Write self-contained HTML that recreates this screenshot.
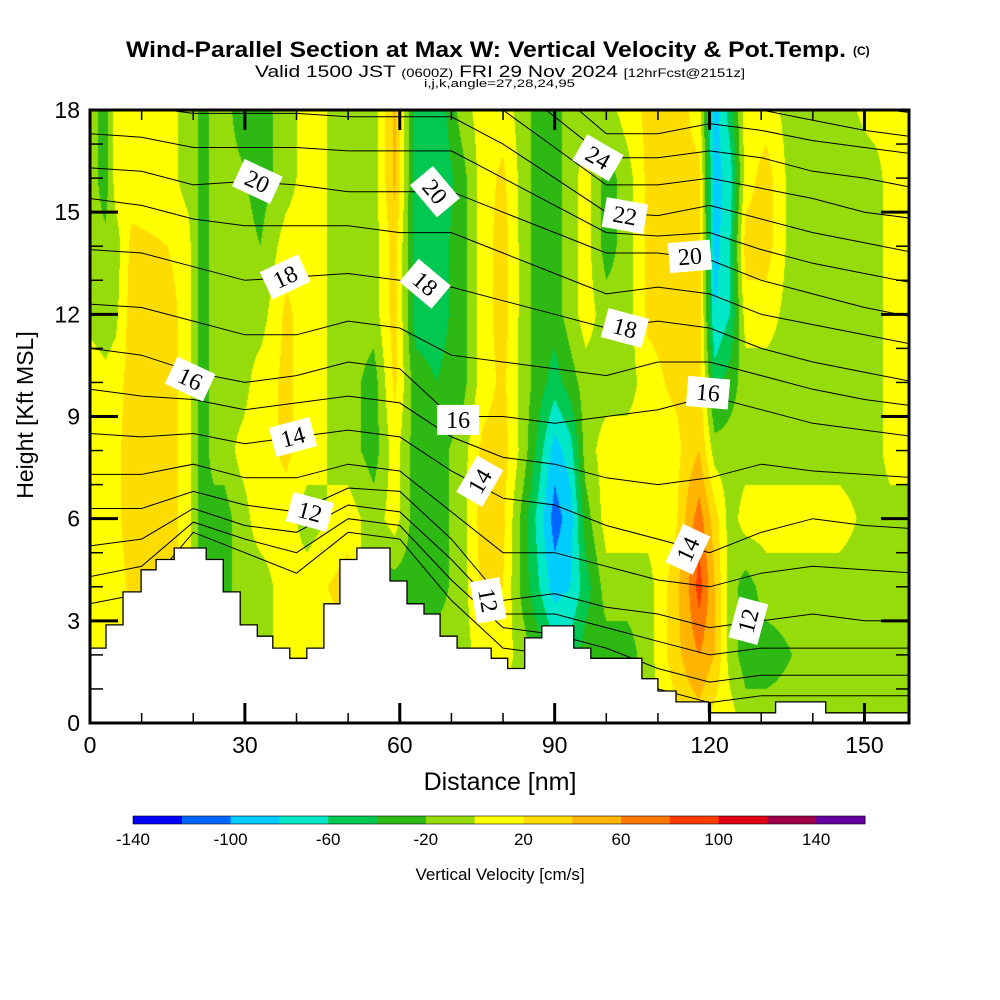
<!DOCTYPE html>
<html><head><meta charset="utf-8">
<style>
html,body{margin:0;padding:0;background:#fff;}
#wrap{position:relative;width:1000px;height:1000px;overflow:hidden;}
canvas{position:absolute;left:0;top:0;}
svg{position:absolute;left:0;top:0;}
text{font-family:"Liberation Sans",sans-serif;}
text.serif{font-family:"Liberation Serif",serif;}
text.narrow{font-family:"Liberation Sans Narrow","Liberation Sans",sans-serif;}
</style></head>
<body>
<div id="wrap">
<canvas id="field" width="1000" height="1000"></canvas>
<svg id="ov" width="1000" height="1000" xmlns="http://www.w3.org/2000/svg">
  <g>
    <text class="narrow" x="126" y="57" font-size="22" font-weight="bold" textLength="720" lengthAdjust="spacingAndGlyphs">Wind-Parallel Section at Max W: Vertical Velocity &amp; Pot.Temp.</text>
    <text class="narrow" x="853" y="55" font-size="12" font-weight="bold">(C)</text>
  </g>
  <text class="narrow" x="255" y="77" font-size="17" textLength="490" lengthAdjust="spacingAndGlyphs">Valid 1500 JST <tspan font-size="12">(0600Z)</tspan> FRI 29 Nov 2024 <tspan font-size="12">[12hrFcst@2151z]</tspan></text>
  <text class="narrow" x="424" y="87" font-size="11" textLength="151" lengthAdjust="spacingAndGlyphs">i,j,k,angle=27,28,24,95</text>
  <g id="isen"></g>
  <g id="terrain"></g>
  <g id="labels"></g>
  <g id="axes"></g>
  <text x="500" y="790" font-size="25" text-anchor="middle">Distance [nm]</text>
  <text x="0" y="0" font-size="23" text-anchor="middle" transform="translate(33,415) rotate(-90)">Height [Kft MSL]</text>
  <g id="cbar"></g>
  <text x="500" y="880" font-size="17" text-anchor="middle">Vertical Velocity [cm/s]</text>
</svg>
</div>
<script>
// ---- data ----
const levels = [-140,-120,-100,-80,-60,-40,-20,0,20,40,60,80,100,120,140,160];
const levelColors = ["#0000ff","#0066ff","#00ccff","#00e8c8","#00c850","#2db814","#96dc0a","#ffff00","#ffdc00","#ffb400","#ff7800","#ff3c00","#e00014","#a0004a","#6400a0"];
const cbarTicks = [-140,-100,-60,-20,20,60,100,140];
const xTicks = [0,30,60,90,120,150];
const yTicks = [0,3,6,9,12,15,18];
const wHeights = [0,2,4,6,8,10,12,14,16,18];
const wColsNm = [0,3,5,8,15,19,20,22,24,26,29,33,38,42,50,55,59,63,67,72,76,80,84,87,90,93,96,100,104,108,113,116,118,121,124,127,131,136,145,152,155,159];
const wValues = [
 [10,10,10,10,10,10,-5,-10,-10,-10],
 [10,10,10,10,10,5,-10,-15,-30,-30],
 [10,10,10,15,15,10,-5,-10,10,10],
 [10,10,25,30,30,30,30,25,10,10],
 [10,15,30,30,30,30,30,20,10,10],
 [10,10,10,10,10,10,10,10,-10,-10],
 [-10,-10,-10,-10,-10,-10,-10,-10,-10,-10],
 [-10,-30,-30,-30,-30,-30,-30,-30,-30,-30],
 [-10,-10,-30,-30,-10,-10,-10,-10,-10,-10],
 [-10,-10,-30,-30,-10,-10,-10,-10,-10,-10],
 [-10,-10,-10,-10,5,-10,-10,-10,-15,-30],
 [-5,-10,-10,10,10,10,-10,-20,-30,-30],
 [10,10,10,10,25,25,25,10,-10,-10],
 [10,10,10,-10,10,10,10,10,10,10],
 [10,10,30,10,-10,-10,-10,-10,-10,-10],
 [-10,-10,-30,-10,-30,-30,-10,-10,-10,-10],
 [-10,-10,-30,10,10,25,30,30,45,45],
 [-10,-10,-30,-30,-30,-30,-50,-50,-50,-50],
 [-10,-10,-30,-30,-30,-40,-50,-50,-60,-60],
 [-10,-10,-10,-10,-10,-30,-30,-30,-30,-10],
 [-10,10,25,30,25,10,10,10,10,10],
 [-10,10,20,25,30,25,30,30,25,10],
 [-10,-10,-30,-30,-10,-10,-10,-10,-10,-10],
 [-30,-30,-60,-70,-50,-30,-30,-30,-30,-30],
 [-30,-50,-90,-110,-90,-50,-30,-30,-30,-30],
 [-30,-50,-80,-90,-70,-30,-10,-10,-10,-10],
 [-30,-30,-50,-30,-10,-10,10,10,10,-10],
 [-30,-30,-10,10,10,-10,-10,-30,-30,-10],
 [-30,-30,-10,10,10,-10,-10,-10,-10,10],
 [-10,-10,-10,10,10,10,25,25,25,25],
 [10,30,30,10,10,25,30,30,25,25],
 [25,50,60,50,30,25,25,25,25,20],
 [30,60,90,70,40,30,30,30,25,10],
 [10,40,40,30,-10,-50,-80,-90,-90,-90],
 [10,-10,-10,-10,-10,-30,-60,-60,-70,-50],
 [-10,-30,-30,10,-10,-10,10,30,10,10],
 [-10,-30,-10,10,-10,-10,10,30,30,10],
 [-10,-20,-10,10,-10,-10,-10,-10,-10,-10],
 [-10,-10,-10,10,-10,-10,-10,-10,-10,-10],
 [-10,-10,-10,-10,-10,-10,-10,-10,-10,10],
 [-10,-10,-10,-10,10,10,10,10,10,10],
 [-10,-10,-10,-10,10,10,10,10,10,10]
];
const thetaNodesNm = [0,10,20,30,40,50,60,70,80,90,100,110,120,130,140,150,160];
const thetaValues = [9,10,11,12,13,14,15,16,17,18,19,20,21,22,23,24,25,26,27];
const thetaHeights = [
 [3.5,3.8,5.6,5.0,4.4,5.6,5.4,3.6,2.2,2.0,1.6,1.0,0.6,0.8,0.8,0.8,0.8],
 [4.3,4.6,5.9,5.4,5.0,6.0,5.8,4.2,2.8,2.6,2.2,1.6,1.2,1.4,1.4,1.4,1.4],
 [5.2,5.4,6.3,5.8,5.6,6.4,6.2,4.8,3.2,3.2,2.8,2.4,2.0,2.2,2.2,2.2,2.2],
 [6.3,6.3,6.8,6.4,6.2,6.9,6.8,5.4,3.6,3.8,3.4,3.2,2.8,3.0,3.2,3.0,3.0],
 [7.3,7.3,7.6,7.2,7.2,7.6,7.4,6.2,5.0,5.0,4.6,4.2,4.0,4.4,4.6,4.5,4.4],
 [8.5,8.4,8.5,8.2,8.4,8.6,8.4,7.4,6.6,6.4,5.8,5.4,5.0,5.6,6.0,5.8,5.7],
 [9.8,9.6,9.5,9.2,9.4,9.6,9.4,8.4,7.8,7.6,7.2,7.0,7.2,7.6,7.4,7.3,7.2],
 [11.0,10.8,10.3,10.0,10.2,10.6,10.4,9.0,9.0,8.8,9.0,9.2,9.6,9.2,8.8,8.6,8.4],
 [12.3,12.2,11.8,11.4,11.4,11.8,11.6,10.8,10.6,10.4,10.2,10.6,10.6,10.2,9.8,9.5,9.3],
 [13.9,13.8,13.4,13.0,13.1,13.2,13.0,12.8,12.4,12.0,11.6,11.8,11.6,11.0,10.6,10.3,10.0],
 [15.4,15.2,14.8,14.6,14.6,14.6,14.4,14.4,13.8,13.2,12.6,12.8,12.6,12.0,11.7,11.4,11.1],
 [16.3,16.2,15.8,15.9,15.8,15.6,15.6,15.6,15.0,14.4,13.8,13.8,13.6,13.0,12.6,12.2,11.9],
 [17.3,17.2,16.9,16.9,16.9,16.8,16.8,16.8,16.0,15.2,14.4,14.3,14.4,13.9,13.5,13.2,12.9],
 [18.2,18.1,17.9,17.9,17.9,17.8,17.8,17.8,17.0,16.0,15.0,14.9,15.2,14.8,14.4,14.1,13.8],
 [19.2,19.1,18.9,18.9,18.9,18.8,18.8,18.8,18.0,16.9,15.8,15.8,16.0,15.7,15.4,15.0,14.8],
 [20,20,20,20,20,20,20,19.8,19.0,17.8,16.6,16.6,16.8,16.6,16.2,16.0,15.7],
 [21,21,21,21,21,21,21,20.8,19.9,18.6,17.3,17.3,17.6,17.4,17.1,16.9,16.7],
 [22,22,22,22,22,22,22,21.8,20.8,19.4,18.0,18.0,18.2,18.0,17.7,17.4,17.2],
 [23,23,23,23,23,23,23,22.8,21.6,20.2,18.6,18.6,18.8,18.6,18.3,18.1,17.9]
];
const terrainEdgesNm = [0,3.1,6.4,9.9,12.8,16.3,22.5,25.8,29.1,32.4,35.4,38.7,42.0,45.3,48.4,51.7,58.1,61.4,64.7,67.8,71.1,77.7,80.9,84.2,87.5,93.7,97.0,106.9,110.0,113.5,119.8,132.8,142.5,158.6];
const terrainHeights = [2.2,2.88,3.85,4.5,4.8,5.14,4.8,3.85,2.88,2.55,2.2,1.9,2.2,3.5,4.8,5.14,4.17,3.5,3.2,2.55,2.2,1.9,1.6,2.5,2.85,2.2,1.9,1.3,0.94,0.62,0.3,0.62,0.3];
const labelTexts = ["20","18","16","14","12","20","18","16","14","12","24","22","20","18","16","14","12"];
const labelNm = [32.4,37.8,19.4,39.3,42.6,66.8,64.9,71.3,75.5,77.1,98.4,103.6,116.2,103.6,119.7,115.8,127.5];
const labelKft = [15.9,13.1,10.1,8.4,6.2,15.6,12.9,8.9,7.1,3.6,16.6,14.9,13.7,11.6,9.7,5.1,3.0];
const labelRot = [25,-25,25,-15,15,50,40,0,-60,80,30,10,-5,15,5,-65,-75];

// ---- axes ----
const X0=90, X1=909, Y0=723, Y1=110;
const NMMAX=(X1-X0)/5.163;
function xs(nm){return X0+nm*5.163;}
function ys(k){return Y0-(k/18)*(Y0-Y1);}
const SVGNS="http://www.w3.org/2000/svg";
function mk(tag,attrs,parent){const e=document.createElementNS(SVGNS,tag);for(const k in attrs)e.setAttribute(k,attrs[k]);parent.appendChild(e);return e;}

// ---- field ----
(function(){
  const cv=document.getElementById('field');const ctx=cv.getContext('2d');
  const rgb=levelColors.map(c=>[parseInt(c.substr(1,2),16),parseInt(c.substr(3,2),16),parseInt(c.substr(5,2),16)]);
  const W=X1-X0, H=Y0-Y1;
  const img=ctx.createImageData(W,H);
  for(let px=0;px<W;px++){
    const nm=(px+0.5)/5.163;
    let j=0; while(j<wColsNm.length-2 && nm>wColsNm[j+1]) j++;
    let fx=(nm-wColsNm[j])/(wColsNm[j+1]-wColsNm[j]); fx=Math.max(0,Math.min(1,fx));
    for(let py=0;py<H;py++){
      const k=18-(py+0.5)/H*18;
      let r=Math.min(wHeights.length-2,Math.floor(k/2)); let fy=(k-wHeights[r])/(wHeights[r+1]-wHeights[r]);
      const a=wValues[j][r]*(1-fx)+wValues[j+1][r]*fx;
      const b=wValues[j][r+1]*(1-fx)+wValues[j+1][r+1]*fx;
      const v=a*(1-fy)+b*fy;
      let ci=0; while(ci<levelColors.length-1 && v>=levels[ci+1]) ci++;
      const o=(py*W+px)*4; img.data[o]=rgb[ci][0];img.data[o+1]=rgb[ci][1];img.data[o+2]=rgb[ci][2];img.data[o+3]=255;
    }
  }
  ctx.putImageData(img,X0,Y1);
})();

// ---- isentropes ----
(function(){
  const g=document.getElementById('isen');
  const defs=mk('defs',{},g);
  const cp=mk('clipPath',{id:'plotclip'},defs);
  mk('rect',{x:X0,y:Y1,width:X1-X0,height:Y0-Y1},cp);
  thetaHeights.forEach((hs,i)=>{
    const pts=thetaNodesNm.map((n,j)=>xs(n).toFixed(1)+','+ys(hs[j]).toFixed(1)).join(' ');
    const pl=mk('polyline',{points:pts,fill:'none',stroke:'#000','stroke-width':1,'clip-path':'url(#plotclip)'},g);
    
    
  });
})();

// ---- terrain ----
(function(){
  const g=document.getElementById('terrain');
  let d='M'+xs(0)+','+Y0;
  terrainHeights.forEach((h,i)=>{
    d+=' L'+xs(terrainEdgesNm[i]).toFixed(1)+','+ys(h).toFixed(1)+' L'+xs(terrainEdgesNm[i+1]).toFixed(1)+','+ys(h).toFixed(1);
  });
  d+=' L'+X1+','+ys(terrainHeights[terrainHeights.length-1]).toFixed(1)+' L'+X1+','+Y0+' Z';
  const p=mk('path',{d:d,fill:'#fff',stroke:'#000','stroke-width':1.3},g);
  
  
})();

// ---- contour labels ----
(function(){
  const g=document.getElementById('labels');
  labelTexts.forEach((t,i)=>{
    const cx=xs(labelNm[i]), cy=ys(labelKft[i]);
    const lg=mk('g',{transform:'translate('+cx.toFixed(1)+','+cy.toFixed(1)+') rotate('+labelRot[i]+')'},g);
    
    
    mk('rect',{x:-21,y:-15,width:42,height:30,fill:'#fff'},lg);
    const tx=mk('text',{x:0,y:8,'font-size':24,'text-anchor':'middle','class':'serif'},lg);
    tx.textContent=t;
  });
})();

// ---- axes ----
(function(){
  const g=document.getElementById('axes');
  const fr=mk('rect',{x:X0,y:Y1,width:X1-X0,height:Y0-Y1,fill:'none',stroke:'#000','stroke-width':3},g);
  
  
  for(let k=0;k<=18;k++){
    const y=ys(k), L=(k%3===0)?28:13;
    mk('line',{x1:X0,y1:y,x2:X0+L,y2:y,stroke:'#000','stroke-width':k%3===0?3:1.5},g);
    mk('line',{x1:X1,y1:y,x2:X1-L,y2:y,stroke:'#000','stroke-width':k%3===0?3:1.5},g);
  }
  for(let n=0;n<=NMMAX;n+=10){
    const x=xs(n), maj=(n%30===0), L=maj?20:10;
    mk('line',{x1:x,y1:Y0,x2:x,y2:Y0-L,stroke:'#000','stroke-width':maj?3:1.5},g);
    mk('line',{x1:x,y1:Y1,x2:x,y2:Y1+L,stroke:'#000','stroke-width':maj?3:1.5},g);
  }
  yTicks.forEach(k=>{
    const t=mk('text',{x:80,y:ys(k)+8,'font-size':23,'text-anchor':'end'},g);
    
    
    t.textContent=k;
  });
  xTicks.forEach(n=>{
    const t=mk('text',{x:xs(n),y:753,'font-size':23,'text-anchor':'middle'},g);
    
    
    t.textContent=n;
  });
})();

// ---- colorbar ----
(function(){
  const g=document.getElementById('cbar');
  const cx0=133, seg=48.8;
  function cbx(v){return cx0+(v-levels[0])/20*seg;}
  levelColors.forEach((c,i)=>{
    const r=mk('rect',{x:cbx(levels[i]),y:816,width:seg+0.5,height:8,fill:c},g);
    
    
  });
  mk('rect',{x:cx0,y:816,width:seg*15,height:8,fill:'none',stroke:'#000','stroke-width':0.6},g);
  cbarTicks.forEach(v=>{
    const t=mk('text',{x:cbx(v),y:845,'font-size':17,'text-anchor':'middle'},g);
    
    
    t.textContent=v;
  });
})();
</script>
</body></html>
